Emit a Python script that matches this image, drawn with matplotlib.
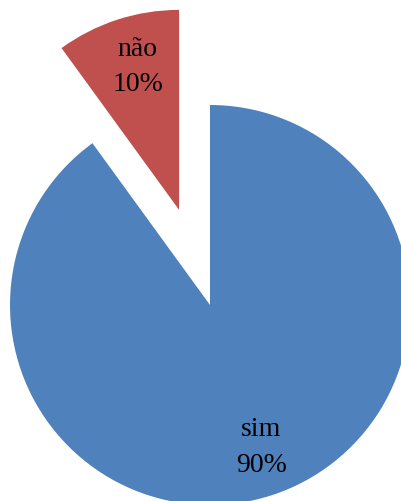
import matplotlib
matplotlib.use("Agg")
import matplotlib.pyplot as plt
import matplotlib.transforms as mtransforms

categories = ["sim", "não"]
values = [90, 10]
colors = ["#4F81BD", "#C0504D"]
explode = [0, 0.5]

labels = [f"{c}\n{v}%" for c, v in zip(categories, values)]

fig = plt.figure(figsize=(4.01, 5.01), dpi=100)
ax = fig.add_axes([0, 0, 1, 1])
wedges, texts = ax.pie(values, labels=labels, colors=colors, explode=explode,
                       startangle=90, counterclock=False, radius=1,
                       labeldistance=0.75,
                       textprops=dict(family=["Liberation Serif", "DejaVu Serif"],
                                      fontsize=20, color="black",
                                      linespacing=1.55))
shift = mtransforms.ScaledTranslation(5 / 100, 0, fig.dpi_scale_trans)
for t in texts:
    t.set_ha("center")
    t.set_va("center")
    t.set_multialignment("center")
    t.set_transform(t.get_transform() + shift)
ax.set_aspect("equal")
ax.set_xlim(-1.05, 0.955)
ax.set_ylim(-0.98, 1.525)
ax.axis("off")
fig.savefig("out.png", dpi=100)
